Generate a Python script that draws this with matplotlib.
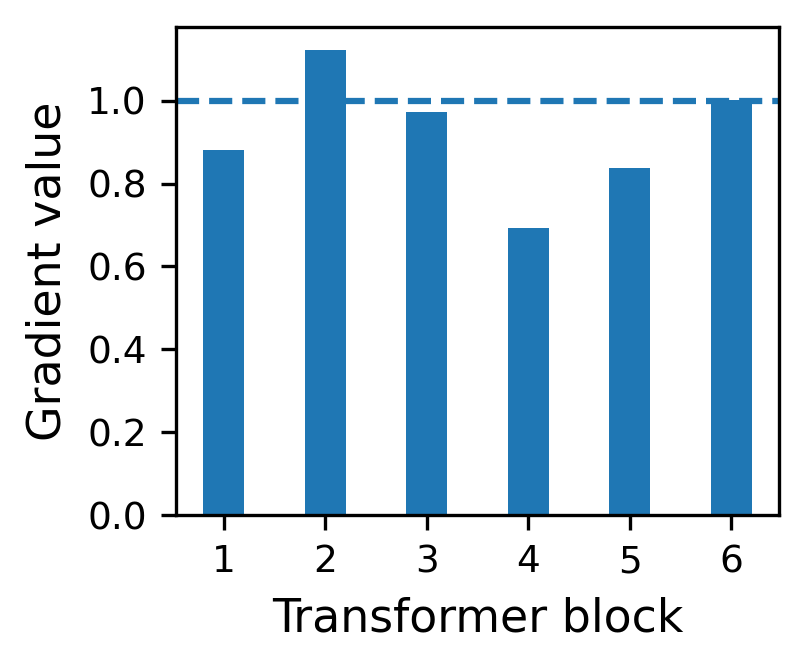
import matplotlib; matplotlib.use('Agg')
import matplotlib.pyplot as plt

# block index and measured gradient per block
blocks = [1, 2, 3, 4, 5, 6]
grad_vals = [0.88, 1.122, 0.973, 0.692, 0.837, 1.003]
ref_level = 1.0

fig = plt.figure(figsize=(807/300, 667/300), dpi=300)
ax = fig.add_axes([176/807, 1 - 515/667, (779-176)/807, (515-27)/667])
ax.bar(blocks, grad_vals, width=0.4, color='C0')
ax.axhline(ref_level, color='C0', linestyle='--')
ax.set_xticks(blocks)
ax.tick_params(labelsize=9)
ax.set_xlabel('Transformer block', fontsize=11)
ax.set_ylabel('Gradient value', fontsize=11)

fig.savefig('out.png', dpi=300)
